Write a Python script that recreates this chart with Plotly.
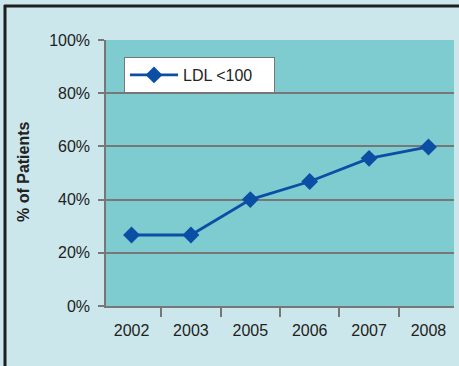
import plotly.graph_objects as go

years = ["2002", "2003", "2005", "2006", "2007", "2008"]
ldl_lt_100 = [26.7, 26.7, 40.0, 46.8, 55.5, 59.8]
y_ticks = [0, 20, 40, 60, 80, 100]
y_tick_labels = ["0%", "20%", "40%", "60%", "80%", "100%"]

W, H = 459, 366
L, R, T, B = 106, 5, 40, 60
pw, ph = W - L - R, H - T - B

fig = go.Figure()
fig.add_trace(go.Scatter(
    x=years, y=ldl_lt_100, mode="lines+markers", name="LDL <100",
    line=dict(color="#0b4fa5", width=2.8),
    marker=dict(symbol="diamond", size=13, color="#0b4fa5"),
))

def px_x(x):
    return (x - L) / pw

def px_y(y):
    return (H - B - y) / ph

# outer frame (top and left dark border)
fig.add_shape(type="line", xref="paper", yref="paper",
              x0=px_x(4), x1=px_x(459), y0=px_y(6), y1=px_y(6),
              line=dict(color="#1e1e1e", width=3))
fig.add_shape(type="line", xref="paper", yref="paper",
              x0=px_x(5), x1=px_x(5), y0=px_y(5), y1=px_y(366),
              line=dict(color="#1e1e1e", width=3))

fig.add_annotation(
    text="<b>% of Patients</b>", textangle=-90, showarrow=False,
    xref="paper", yref="paper", x=px_x(23), y=px_y(172),
    xanchor="center", yanchor="middle",
    font=dict(size=16, color="#222222"),
)

fig.update_layout(
    width=W, height=H,
    margin=dict(l=L, r=R, t=T, b=B),
    paper_bgcolor="#cce7eb",
    plot_bgcolor="#7ecbd0",
    font=dict(family="Liberation Sans, Arial, sans-serif", size=16, color="#222222"),
    showlegend=True,
    legend=dict(
        x=px_x(124), y=px_y(57), xanchor="left", yanchor="top",
        orientation="h", entrywidth=86, entrywidthmode="pixels",
        bgcolor="white", bordercolor="#777777", borderwidth=1,
        font=dict(size=16, color="#222222"),
        itemwidth=48,
    ),
    xaxis=dict(
        type="category", showgrid=False, showline=True, linecolor="#777777", linewidth=1.5,
        ticks="outside", tickson="boundaries", ticklen=9, tickcolor="#777777", tickwidth=1.5,
        tickfont=dict(size=16, color="#222222"), ticklabelstandoff=9,
    ),
    yaxis=dict(
        range=[0, 100], tickvals=y_ticks, ticktext=y_tick_labels,
        showgrid=True, gridcolor="#777777", gridwidth=1.5,
        showline=True, linecolor="#777777", linewidth=1.5,
        ticks="outside", ticklen=6, tickcolor="#777777", tickwidth=1.5,
        tickfont=dict(size=16, color="#222222"), zeroline=False,
        ticklabelstandoff=5,
    ),
)

fig.write_html("out.html")
